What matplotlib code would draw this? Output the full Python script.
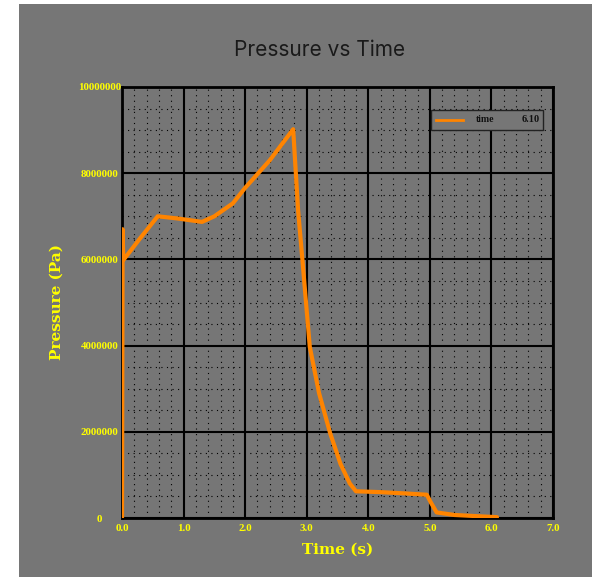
import matplotlib.pyplot as plt
from matplotlib.patches import Rectangle
from matplotlib.ticker import MultipleLocator

# pressure trace sampled over the run
time_s = [0.0, 0.01, 0.02, 0.03, 0.3, 0.58, 0.9, 1.3, 1.5, 1.8, 2.0, 2.4, 2.78,
          2.86, 2.93, 3.05, 3.2, 3.38, 3.55, 3.7, 3.8, 4.2, 4.6, 4.95, 5.02, 5.11,
          5.4, 5.8, 6.09]
pressure_pa = [0, 6700000, 6000000, 6000000, 6500000, 7000000, 6950000, 6870000,
               7000000, 7300000, 7660000, 8300000, 9020000,
               7140000, 5990000, 3970000, 2900000, 1970000, 1250000, 800000,
               620000, 600000, 570000, 540000, 350000, 130000,
               70000, 40000, 20000]
legend_label = 'time'
legend_value = '6.10'

bg = '#767676'
yellow = '#ffff00'
orange = '#ff8400'

fig = plt.figure(figsize=(5.92, 5.77), dpi=100, facecolor=bg)
# white margin on the left and top edges
fig.patches.append(Rectangle((0, 0), 19 / 592, 1, transform=fig.transFigure,
                             facecolor='white', edgecolor='none', zorder=-10))
fig.patches.append(Rectangle((0, 1 - 4 / 577), 1, 4 / 577, transform=fig.transFigure,
                             facecolor='white', edgecolor='none', zorder=-10))

ax = fig.add_axes([122 / 592, 59 / 577, 431 / 592, 431 / 577])
ax.set_facecolor(bg)
ax.plot(time_s, pressure_pa, color=orange, lw=3, solid_capstyle='round', zorder=3)

ax.set_xlim(0, 7)
ax.set_ylim(0, 10000000)
ax.xaxis.set_major_locator(MultipleLocator(1))
ax.xaxis.set_minor_locator(MultipleLocator(0.2))
ax.yaxis.set_major_locator(MultipleLocator(2000000))
ax.yaxis.set_minor_locator(MultipleLocator(500000))
ax.xaxis.set_major_formatter(lambda v, p: f'{v:.1f}')
ax.yaxis.set_major_formatter(lambda v, p: f'{v:.0f}')

ax.grid(which='major', color='black', lw=1.5)
ax.grid(which='minor', color='black', lw=0.8, ls=(0, (1, 4)))
ax.set_axisbelow(True)
for s in ax.spines.values():
    s.set_color('black')
    s.set_linewidth(2)

ax.tick_params(which='both', length=0)
ax.tick_params(axis='x', pad=4)
ax.tick_params(axis='y', pad=16)
for lab in ax.get_xticklabels() + ax.get_yticklabels():
    lab.set_family('Liberation Serif')
    lab.set_weight('bold')
    lab.set_fontsize(7.8)
    lab.set_color(yellow)
# y labels are centred in their column
for lab in ax.get_yticklabels():
    lab.set_horizontalalignment('center')

ax.set_xlabel('Time (s)', family='DejaVu Serif', weight='bold',
              fontsize=11, color=yellow, labelpad=7)
ax.set_ylabel('Pressure (Pa)', family='DejaVu Serif', weight='bold',
              fontsize=11, color=yellow, va='center')
ax.yaxis.set_label_coords(-65 / 431, 0.5)

fig.text(320 / 592, 1 - 50 / 577, 'Pressure vs Time', ha='center', va='center',
         family='Inter', fontsize=15, color='#1a1a1a')

# legend box with line, name and last time value
lx0, lx1 = 431 / 592, 543 / 592
ly0, ly1 = 1 - 130 / 577, 1 - 110 / 577
fig.patches.append(Rectangle((lx0, ly0), lx1 - lx0, ly1 - ly0, transform=fig.transFigure,
                             facecolor=bg, edgecolor='#222222', lw=1, zorder=5))
ly = (ly0 + ly1) / 2
fig.lines.append(plt.Line2D([436 / 592, 463 / 592], [ly, ly], transform=fig.transFigure,
                            color=orange, lw=2, zorder=6))
fig.text(476 / 592, ly, legend_label, ha='left', va='center', family='Liberation Serif',
         weight='bold', fontsize=7, color='#111111', zorder=6)
fig.text(540 / 592, ly, legend_value, ha='right', va='center', family='Liberation Serif',
         weight='bold', fontsize=7.5, color='#111111', zorder=6)

fig.savefig('out.png', dpi=100, facecolor=fig.get_facecolor())
